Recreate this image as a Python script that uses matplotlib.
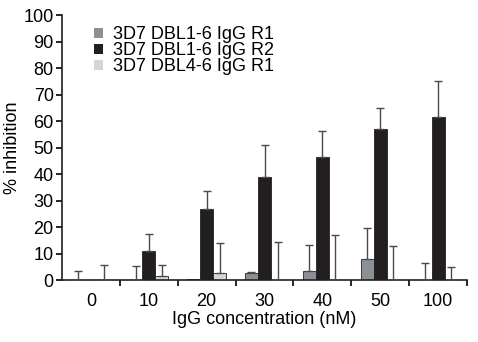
import numpy as np
import matplotlib
matplotlib.use('Agg')
import matplotlib.pyplot as plt
from matplotlib.patches import Patch

plt.rcParams['font.family'] = ['Liberation Sans', 'DejaVu Sans']

conc = ['0', '10', '20', '30', '40', '50', '100']
r1 = [0, 0, 0.5, 2.5, 3.5, 7.8, 0]
r1_err = [3.5, 5.4, np.nan, 0.7, 9.8, 12, 6.5]
r2 = [0, 11, 27, 39, 46.4, 57, 61.5]
r2_err = [np.nan, 6.5, 6.5, 12, 10, 8, 13.5]
dbl46 = [0, 1.5, 2.5, 0, 0, 0, 0]
dbl46_err = [5.8, 4.3, 11.5, 14.2, 17, 12.9, 5]

labels = ['3D7 DBL1-6 IgG R1', '3D7 DBL1-6 IgG R2', '3D7 DBL4-6 IgG R1']
colors = ['#8a9095', '#231f20', '#d3d6d9']

fig = plt.figure(figsize=(4.78, 3.42), dpi=100)
ax = fig.add_axes([0.1297, 0.181, 0.8473, 0.775])

x = np.arange(len(conc))
w = 0.225
series = [(r1, r1_err), (r2, r2_err), (dbl46, dbl46_err)]
for i, (vals, errs) in enumerate(series):
    pos = x + (i - 1) * w
    ax.bar(pos, vals, w, color=colors[i], edgecolor='#231f20', linewidth=0.6,
           zorder=2)
    errs = np.array(errs, dtype=float)
    ok = ~np.isnan(errs)
    ax.errorbar(pos[ok], np.array(vals)[ok], yerr=[np.zeros(ok.sum()), errs[ok]],
                fmt='none', ecolor='#4a4a4a', elinewidth=1.0, capsize=3,
                capthick=1.0, zorder=3)

ax.set_xlim(-0.5, 6.5)
ax.set_ylim(0, 100)
ax.set_yticks(range(0, 101, 10))
ax.set_xticks(np.arange(0.5, 7, 1))
ax.set_xticklabels([])
ax.set_xticks(x, minor=True)
ax.set_xticklabels(conc, minor=True)
ax.tick_params(axis='x', which='major', direction='out', length=4, width=1.2)
ax.tick_params(axis='x', which='minor', length=0, pad=9, labelsize=13)
ax.tick_params(axis='y', direction='out', length=4, width=1.2, labelsize=13, pad=2)

for s in ['top', 'right']:
    ax.spines[s].set_visible(False)
for s in ['left', 'bottom']:
    ax.spines[s].set_linewidth(1.2)
    ax.spines[s].set_color('#231f20')

ax.set_xlabel('IgG concentration (nM)', fontsize=13, labelpad=1)
ax.set_ylabel('% inhibition', fontsize=13, labelpad=2)

handles = [Patch(facecolor=c, edgecolor='none') for c in colors]
ax.legend(handles, labels, loc='upper left', bbox_to_anchor=(0.06, 0.985),
          frameon=False, fontsize=13, handlelength=0.5, handleheight=0.5,
          handletextpad=0.6, labelspacing=-0.05, borderaxespad=0)

fig.savefig('out.png', dpi=100)
